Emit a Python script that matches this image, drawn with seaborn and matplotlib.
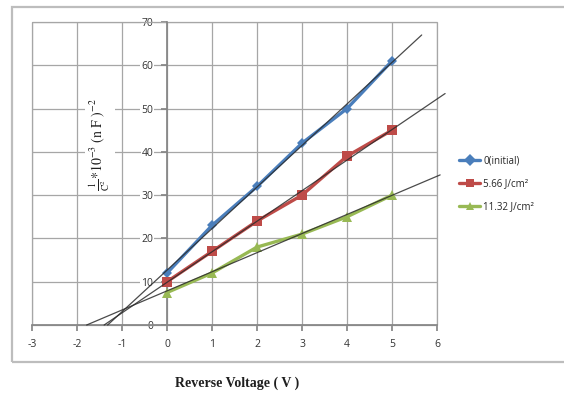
import numpy as np
import pandas as pd
import matplotlib
matplotlib.use("Agg")
import matplotlib.pyplot as plt
import seaborn as sns
from matplotlib.patches import Rectangle

# Reverse bias voltage (V) and 1/C^2 values for each fluence
voltage = [0, 1, 2, 3, 4, 5]
initial = [12, 23, 32, 42, 50, 61]
fluence_566 = [10, 17, 24, 30, 39, 45]
fluence_1132 = [7.5, 12, 18, 21, 25, 30]
series_names = ["0(initial)", "5.66 J/cm\u00b2", "11.32 J/cm\u00b2"]
# how far each linear trendline is carried forward (V)
trend_end = [5.66, 6.18, 6.07]

x_ticks = [-3, -2, -1, 0, 1, 2, 3, 4, 5, 6]
y_ticks = [0, 10, 20, 30, 40, 50, 60, 70]

colors = ["#4A7EBB", "#BE4B48", "#98B954"]
markers = ["D", "s", "^"]
msizes = [5.5, 7.5, 7.5]

df = pd.DataFrame({
    "V": voltage * 3,
    "val": initial + fluence_566 + fluence_1132,
    "series": sum([[n] * len(voltage) for n in series_names], []),
})

sns.set_theme(style="white")
plt.rcParams["font.family"] = ["Open Sans", "DejaVu Sans"]
plt.rcParams["mathtext.fontset"] = "stix"

fig = plt.figure(figsize=(5.64, 3.96), dpi=100)
W, H = 564, 396

# outer chart frame
fig.patches.append(Rectangle((12 / W, 1 - 362 / H), 600 / W, (362 - 7) / H,
                             transform=fig.transFigure, fill=False,
                             edgecolor="#BDBDBD", lw=1.6, zorder=0))

ax = fig.add_axes([32 / W, 1 - 325 / H, (437 - 32) / W, (325 - 22) / H])

sns.lineplot(data=df, x="V", y="val", hue="series", style="series",
             palette=colors, markers=markers, dashes=False, lw=2.4,
             markeredgewidth=0, ax=ax, zorder=3)
for line, ms in zip(ax.get_lines(), msizes):
    line.set_markersize(ms)

# least-squares trendlines, extended back to the voltage axis
for vals, xe in zip([initial, fluence_566, fluence_1132], trend_end):
    k, b = np.polyfit(voltage, vals, 1)
    x0 = -b / k
    xs = np.array([x0, xe])
    ax.plot(xs, k * xs + b, color="#2B2B2B", lw=0.9, alpha=0.85,
            zorder=4, clip_on=False)

ax.set_xlim(-3, 6)
ax.set_ylim(0, 70)
ax.set_xticks(x_ticks)
ax.set_yticks(y_ticks)
ax.set_xticklabels([str(t) for t in x_ticks])
ax.set_yticklabels([str(t) for t in y_ticks])
ax.set_xlabel("")
ax.grid(True, color="#A6A6A6", lw=0.9)
ax.set_axisbelow(True)

for s in ["top", "right"]:
    ax.spines[s].set_visible(False)
ax.spines["bottom"].set_color("#868686")
ax.spines["left"].set_color("#868686")
ax.spines["left"].set_position(("data", 0))
ax.add_patch(Rectangle((0, 0), 1, 1, transform=ax.transAxes, fill=False,
                       edgecolor="#A6A6A6", lw=0.9, clip_on=False, zorder=1))

ax.tick_params(axis="x", direction="out", length=4, color="#868686",
               labelsize=7.5, labelcolor="#333333", pad=6, bottom=True)
ax.tick_params(axis="y", direction="out", length=4, color="#868686",
               labelsize=7.5, labelcolor="#333333", pad=6, left=True)
for t in ax.get_yticklabels():
    t.set_bbox(dict(facecolor="white", edgecolor="none", pad=0.6))

ax.set_ylabel(r"$\frac{1}{\mathrm{C}^{2}}\mathrm{*10^{-3}\ (n\ F\ )^{-2}}$",
              fontsize=10, color="#1F1F1F",
              bbox=dict(facecolor="white", edgecolor="none", pad=2))
ax.yaxis.set_label_coords((112 - 32) / 405, (325 - 145) / 303)

fig.text(237 / W, 1 - 383 / H, "Reverse Voltage ( V )", ha="center",
         va="center", fontsize=10, fontweight="bold",
         family="Liberation Serif", color="#1F1F1F")

handles, labels = ax.get_legend_handles_labels()
ax.legend(handles, labels, loc="center left",
          bbox_to_anchor=(455 / W, 1 - 184 / H), bbox_transform=fig.transFigure,
          frameon=False, fontsize=7, handlelength=2.2, handletextpad=0.3,
          labelspacing=1.2, borderaxespad=0)

fig.savefig("out.png", dpi=100)
